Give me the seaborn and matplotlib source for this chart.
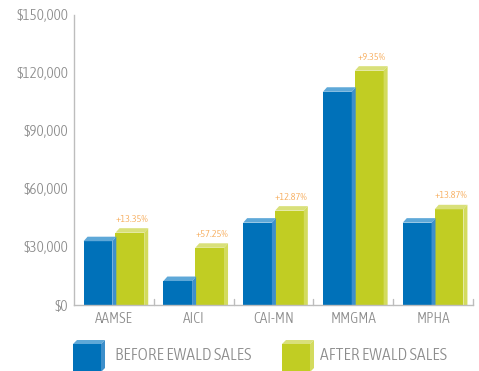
import matplotlib
matplotlib.use("Agg")
import matplotlib.pyplot as plt
from matplotlib.patches import Polygon
from matplotlib import font_manager
import seaborn as sns
import pandas as pd

categories = ["AAMSE", "AICI", "CAI-MN", "MMGMA", "MPHA"]
before = [33000, 12400, 42600, 110300, 42600]
after = [37400, 29600, 48800, 121200, 49500]
pct_labels = ["+13.35%", "+57.25%", "+12.87%", "+9.35%", "+13.87%"]
series = ["BEFORE EWALD SALES", "AFTER EWALD SALES"]
yticks = [0, 30000, 60000, 90000, 120000, 150000]
ytick_labels = ["$0", "$30,000", "$60,000", "$90,000", "$120,000", "$150,000"]

sns.set_theme(style="white")


def _num(v, table, default):
    if isinstance(v, (int, float)):
        return float(v)
    return float(table.get(str(v).lower(), default))


cands = []
for f in font_manager.fontManager.ttflist:
    nm = (f.name + " " + f.fname).lower()
    st = _num(f.stretch, font_manager.stretch_dict, 500)
    if f.style != "normal":
        continue
    if st < 500 or "condensed" in nm or "narrow" in nm:
        if "cjk" in nm or "mono" in nm or "serif" in f.name.lower() and "sans" not in f.name.lower():
            continue
        wt = _num(f.weight, font_manager.weight_dict, 400)
        if "light" in nm and wt >= 400:
            wt = 300
        if "condensed" in nm or "narrow" in nm:
            st = min(st, 300 if "extra" not in nm else 200)
        score = abs(st - 300) / 100 + abs(wt - 300) / 100
        cands.append((score, f.fname, f.name))
cands.sort()
if cands:
    FP = dict(fontproperties=font_manager.FontProperties(fname=cands[0][1]))
    condensed = True
else:
    FP = dict(fontproperties=font_manager.FontProperties(family="DejaVu Sans"))
    condensed = False
plt.rcParams["font.family"] = ["DejaVu Sans"]

s_ytick = 11 if condensed else 9.5
s_xtick = 11 if condensed else 9
s_pct = 7.4 if condensed else 6.5
s_leg = 12.6 if condensed else 10.5

front = {"BEFORE EWALD SALES": "#0071B9", "AFTER EWALD SALES": "#C1CD23"}
top_c = {"BEFORE EWALD SALES": "#5EA8D8", "AFTER EWALD SALES": "#D9E07A"}
side_c = {"BEFORE EWALD SALES": "#3D8FCB", "AFTER EWALD SALES": "#D3DB5E"}
TXT = "#8C8C8C"
AX = "#BDBDBD"

df = pd.DataFrame({
    "cat": categories * 2,
    "val": before + after,
    "series": [series[0]] * len(categories) + [series[1]] * len(categories),
})

W, H = 479, 371
fig = plt.figure(figsize=(W / 100, H / 100), dpi=100)
ax = fig.add_axes([74 / W, 1 - 305 / H, (473 - 74) / W, (305 - 15) / H])
sns.barplot(data=df, x="cat", y="val", hue="series", order=categories,
            hue_order=series, palette=front, width=0.8, gap=0.1,
            saturation=1, ax=ax, legend=False, errorbar=None)
ax.set_xlim(-0.5, len(categories) - 0.5)
ax.set_ylim(0, 150000)

ppx = ((473 - 74) / len(categories))
ppy = (305 - 15) / 150000.0
dxp, dyp = 4.0, 4.5
dx, dy = dxp / ppx, dyp / ppy

green_tops = {}
for patch, s_name in zip(ax.patches, [series[0]] * 5 + [series[1]] * 5):
    x0 = patch.get_x()
    w = patch.get_width()
    h = patch.get_height()
    x1 = x0 + w
    top = Polygon([(x0, h), (x0 + dx, h + dy), (x1 + dx, h + dy), (x1, h)],
                  closed=True, facecolor=top_c[s_name], edgecolor="none", clip_on=False)
    side = Polygon([(x1, 0), (x1 + dx, 0), (x1 + dx, h + dy), (x1, h)],
                   closed=True, facecolor=side_c[s_name], edgecolor="none", clip_on=False)
    ax.add_patch(top)
    ax.add_patch(side)
    patch.set_edgecolor("none")
    if s_name == series[1]:
        green_tops[round(x0 + w / 2)] = (x0 + w / 2 + dx / 2, h + dy)

for i, lab in enumerate(pct_labels):
    xc, yt = green_tops.get(i, (i + 0.2, after[i]))
    ax.text(xc, yt + 9 / ppy, lab, ha="center", va="center",
            color="#F6A54D", fontsize=s_pct, **FP)

sns.despine(ax=ax, top=True, right=True)
for sp in ["left", "bottom"]:
    ax.spines[sp].set_color(AX)
    ax.spines[sp].set_linewidth(1.0)

ax.set_yticks(yticks)
ax.set_yticklabels(ytick_labels, **FP)
ax.tick_params(axis="y", direction="in", length=8, color=AX, width=1,
               labelcolor=TXT, pad=4)
for t in ax.get_yticklabels():
    t.set_fontsize(s_ytick)
ax.set_xticks(range(len(categories)))
ax.set_xticklabels(categories, **FP)
ax.tick_params(axis="x", length=0, labelcolor=TXT, pad=5)
for t in ax.get_xticklabels():
    t.set_fontsize(s_xtick)
for b in range(1, len(categories) + 1):
    ax.plot([b - 0.5, b - 0.5], [0, 6 / ppy], color=AX, lw=1, clip_on=False)
ax.set_xlabel("")
ax.set_ylabel("")
ax.grid(False)


def fig_box(x, y_top, size, s_name, d=4):
    def P(px, py):
        return (px / W, 1 - py / H)
    x0, x1 = x, x + size
    yt, yb = y_top + d, y_top + d + size
    fig.add_artist(Polygon([P(x0, yb), P(x1, yb), P(x1, yt), P(x0, yt)], closed=True,
                           transform=fig.transFigure, facecolor=front[s_name], edgecolor="none"))
    fig.add_artist(Polygon([P(x0, yt), P(x0 + d, yt - d), P(x1 + d, yt - d), P(x1, yt)], closed=True,
                           transform=fig.transFigure, facecolor=top_c[s_name], edgecolor="none"))
    fig.add_artist(Polygon([P(x1, yt), P(x1 + d, yt - d), P(x1 + d, yb - d), P(x1, yb)], closed=True,
                           transform=fig.transFigure, facecolor=side_c[s_name], edgecolor="none"))


fig_box(73, 340, 28, series[0])
fig_box(282, 340, 28, series[1])
fig.text(115 / W, 1 - 356 / H, series[0], ha="left", va="center", color=TXT, fontsize=s_leg, **FP)
fig.text(320 / W, 1 - 356 / H, series[1], ha="left", va="center", color=TXT, fontsize=s_leg, **FP)

fig.savefig("out.png", dpi=100)
